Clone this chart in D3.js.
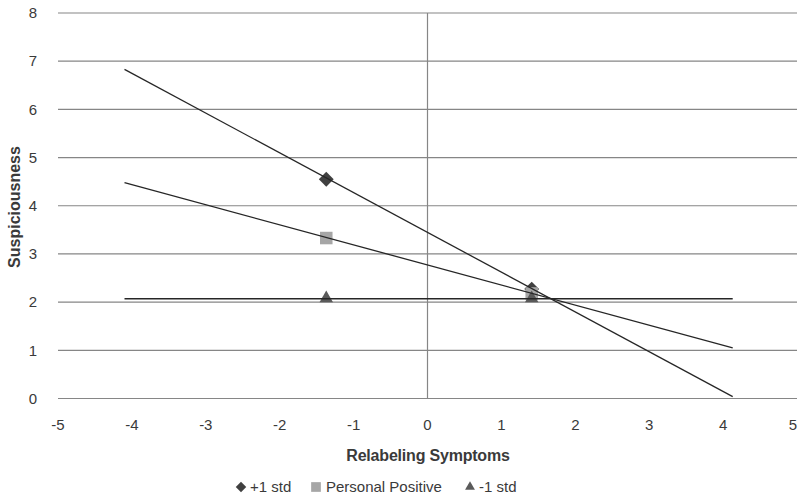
<!DOCTYPE html>
<html>
<head>
<meta charset="utf-8">
<script src="https://cdn.jsdelivr.net/npm/d3@7"></script>
<style>
  body { margin: 0; background: #fff; }
  text { font-family: "Liberation Sans", Arial, sans-serif; fill: #3a3a3a; }
</style>
</head>
<body>
<div id="plot"></div>
<script>
// x positions of the plotted points
const pointX = [-1.37, 1.41];
// series values at those x positions
const plusStd = [4.55, 2.27];
const personalPositive = [3.33, 2.18];
const minusStd = [2.08, 2.08];
// trend line end points (x from, x to)
const lineX = [-4.1, 4.13];
const lineHigh = [6.83, 0.04];
const lineMid = [4.48, 1.05];
const lineLow = [2.07, 2.07];

const xTicks = [-5, -4, -3, -2, -1, 0, 1, 2, 3, 4, 5];
const yTicks = [0, 1, 2, 3, 4, 5, 6, 7, 8];
const legendNames = ["+1 std", "Personal Positive", "-1 std"];

const width = 799, height = 499;

const svg = d3.select("div#plot")
  .append("svg")
  .attr("width", width)
  .attr("height", height);

const x = d3.scaleLinear().domain([-5, 5]).range([58, 797]);
const y = d3.scaleLinear().domain([0, 8]).range([398.5, 13]);

// horizontal gridlines
svg.append("g")
  .selectAll("line")
  .data(yTicks)
  .join("line")
  .attr("x1", x(-5))
  .attr("x2", x(5))
  .attr("y1", d => y(d))
  .attr("y2", d => y(d))
  .attr("stroke", "#868686")
  .attr("stroke-width", 1.2);

// vertical axis at x = 0
svg.append("line")
  .attr("x1", x(0)).attr("x2", x(0))
  .attr("y1", y(8)).attr("y2", y(0))
  .attr("stroke", "#868686")
  .attr("stroke-width", 1.2);

// tick labels
svg.append("g")
  .selectAll("text")
  .data(yTicks)
  .join("text")
  .attr("x", 37)
  .attr("y", d => y(d))
  .attr("dy", "0.35em")
  .attr("text-anchor", "end")
  .style("font-size", "15px")
  .text(d => d);

svg.append("g")
  .selectAll("text")
  .data(xTicks)
  .join("text")
  .attr("x", d => Math.min(x(d), 793))
  .attr("y", 425)
  .attr("dy", "0.35em")
  .attr("text-anchor", "middle")
  .style("font-size", "15px")
  .text(d => d);

// axis titles
svg.append("text")
  .attr("transform", "translate(20, 207) rotate(-90)")
  .attr("text-anchor", "middle")
  .style("font-size", "16px")
  .style("font-weight", "bold")
  .text("Suspiciousness");

svg.append("text")
  .attr("x", 428)
  .attr("y", 455)
  .attr("dy", "0.35em")
  .attr("text-anchor", "middle")
  .style("font-size", "16px")
  .style("font-weight", "bold")
  .style("letter-spacing", "-0.2px")
  .text("Relabeling Symptoms");

// markers
const diamond = d3.symbol().type(d3.symbolDiamond2).size(140);
const square = d3.symbol().type(d3.symbolSquare2).size(200);
const triangle = d3.symbol().type(d3.symbolTriangle2).size(130);

const series = [
  { name: legendNames[0], values: plusStd, shape: diamond, color: "#404040" },
  { name: legendNames[1], values: personalPositive, shape: square, color: "#a6a6a6" },
  { name: legendNames[2], values: minusStd, shape: triangle, color: "#5a5a5a" }
];

series.forEach(function(s) {
  svg.append("g")
    .selectAll("path")
    .data(s.values)
    .join("path")
    .attr("d", s.shape)
    .attr("transform", (d, i) => `translate(${x(pointX[i])}, ${y(d)})`)
    .attr("fill", s.color);
});

// trend lines
const line = d3.line()
  .x((d, i) => x(lineX[i]))
  .y(d => y(d));

[lineHigh, lineMid, lineLow].forEach(function(vals) {
  svg.append("path")
    .attr("d", line(vals))
    .attr("fill", "none")
    .attr("stroke", "#262626")
    .attr("stroke-width", 1.3);
});

// legend
const legendPos = [241, 316, 470];
const legend = svg.append("g")
  .selectAll("g")
  .data(series)
  .join("g")
  .attr("transform", (d, i) => `translate(${legendPos[i]}, 487)`);

legend.append("path")
  .attr("d", (d, i) => d3.symbol().type([d3.symbolDiamond2, d3.symbolSquare2, d3.symbolTriangle2][i]).size(i === 1 ? 120 : 70)())
  .attr("fill", d => d.color);

legend.append("text")
  .attr("x", (d, i) => i === 1 ? 10 : 9)
  .attr("dy", "0.35em")
  .style("font-size", "15px")
  .text(d => d.name);
</script>
</body>
</html>
